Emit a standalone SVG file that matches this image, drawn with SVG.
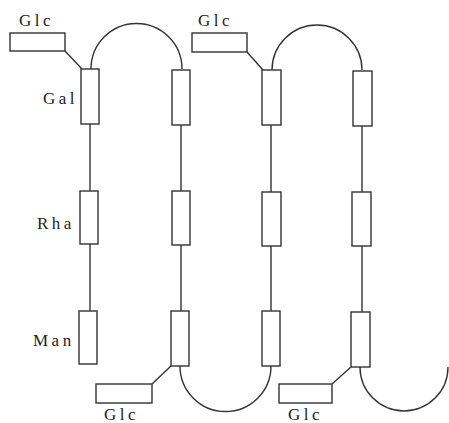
<svg xmlns="http://www.w3.org/2000/svg" width="449" height="423" viewBox="0 0 449 423">
<style>
.b{fill:#fff;stroke:#333;stroke-width:1.4}
.l{fill:none;stroke:#333;stroke-width:1.4}
text{font-family:"Liberation Serif","DejaVu Serif",serif;font-size:17px;fill:#222;letter-spacing:3.5px}
</style>
<rect width="449" height="423" fill="#fff"/>
<g id="connectors">
<path class="l" d="M90,124V191M90,244V311"/>
<path class="l" d="M181,125V191M181,245V311"/>
<path class="l" d="M271,125V192M271,246V311"/>
<path class="l" d="M362,126V192M362,246V312"/>
<path class="l" d="M91,69A45.5,45.5 0 0 1 182,69"/>
<path class="l" d="M272,70A45,45 0 0 1 362,70"/>
<path class="l" d="M180,366A45.5,45.5 0 0 0 271,366"/>
<path class="l" d="M360,367A44,44 0 0 0 448,367"/>
<path class="l" d="M65,51L82,69"/>
<path class="l" d="M247,52L263,70"/>
<path class="l" d="M152,384L171,366"/>
<path class="l" d="M332,384L351,367"/>
</g>
<g id="n1"><rect class="b" x="81" y="69" width="18" height="55"/><text x="43" y="104">Gal</text></g>
<g id="n2"><rect class="b" x="80" y="191" width="18" height="53"/><text x="37" y="229">Rha</text></g>
<g id="n3"><rect class="b" x="79" y="311" width="18" height="53"/><text x="33" y="346">Man</text></g>
<g id="n4"><rect class="b" x="172" y="70" width="18" height="55"/></g>
<g id="n5"><rect class="b" x="172" y="191" width="18" height="54"/></g>
<g id="n6"><rect class="b" x="171" y="311" width="18" height="55"/></g>
<g id="n7"><rect class="b" x="262" y="70" width="19" height="55"/></g>
<g id="n8"><rect class="b" x="262" y="192" width="19" height="54"/></g>
<g id="n9"><rect class="b" x="262" y="311" width="18" height="55"/></g>
<g id="n10"><rect class="b" x="353" y="71" width="19" height="55"/></g>
<g id="n11"><rect class="b" x="352" y="192" width="19" height="54"/></g>
<g id="n12"><rect class="b" x="351" y="312" width="19" height="55"/></g>
<g id="g1"><rect class="b" x="10" y="33" width="55" height="18"/><text x="19" y="26">Glc</text></g>
<g id="g2"><rect class="b" x="192" y="33" width="55" height="19"/><text x="198" y="26">Glc</text></g>
<g id="g3"><rect class="b" x="96" y="384" width="56" height="19"/><text x="104" y="420">Glc</text></g>
<g id="g4"><rect class="b" x="279" y="384" width="53" height="19"/><text x="288" y="420">Glc</text></g>
</svg>
